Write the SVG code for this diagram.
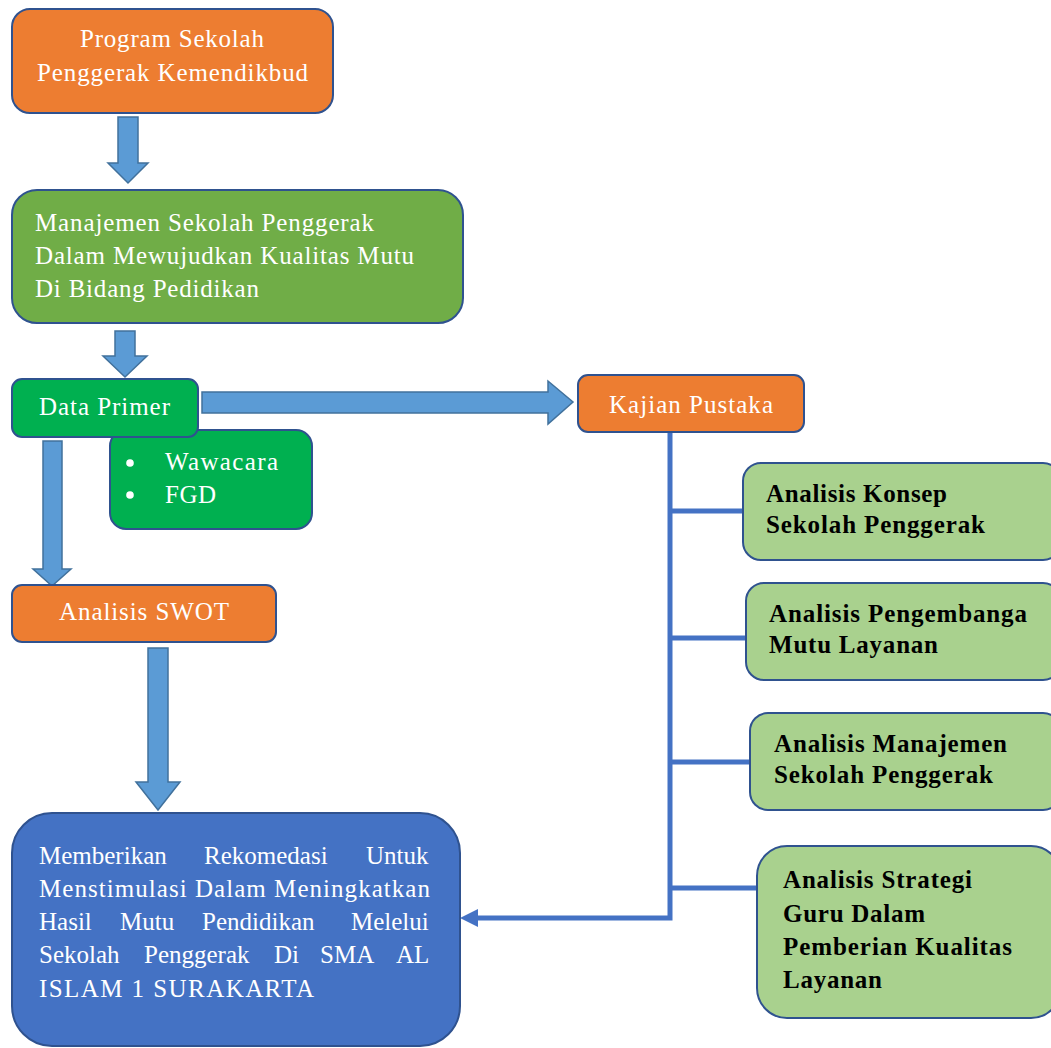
<svg xmlns="http://www.w3.org/2000/svg" width="1051" height="1048" viewBox="0 0 1051 1048">
  <style>
    .box { stroke: #2F528F; stroke-width: 2; }
    .orange { fill: #ED7D31; }
    .green { fill: #70AD47; }
    .bright { fill: #00B050; }
    .light { fill: #A9D18E; }
    .blue { fill: #4472C4; }
    .arrow { fill: #5B9BD5; stroke: #41719C; stroke-width: 1.5; }
    .wt { font-family: "Liberation Serif", "Times New Roman", serif; font-size: 25px; fill: #FFFFFF; }
    .bt { font-family: "Liberation Serif", "Times New Roman", serif; font-size: 25px; font-weight: bold; fill: #000000; }
    .link { fill: none; stroke: #4472C4; stroke-width: 5; }
  </style>

  <rect width="1051" height="1048" fill="#FFFFFF"/>

  <!-- block arrows and connectors -->
  <g id="connectors">
    <polygon class="arrow" points="118,117 138,117 138,163 148,163 128,183 108,163 118,163"/>
    <polygon class="arrow" points="115,331 135,331 135,356 147,356 125,377 103,356 115,356"/>
    <polygon class="arrow" points="202,392 548,392 548,381 573,402 548,424 548,413 202,413"/>
    <polygon class="arrow" points="43,441 62,441 62,569 71,569 52,586 33,569 43,569"/>
    <polygon class="arrow" points="148,648 168,648 168,782 180,782 158,810 136,782 148,782"/>
    <path class="link" d="M670 433 V918 H478"/>
    <polygon points="460,918 478,909 478,927" fill="#4472C4"/>
    <path class="link" d="M670 511 H744 M670 638 H747 M670 762 H751 M670 888 H757"/>
  </g>

  <g id="program">
    <rect class="box orange" x="12" y="9" width="321" height="104" rx="18"/>
    <text class="wt" x="80" y="47" textLength="184" lengthAdjust="spacing">Program Sekolah</text>
    <text class="wt" x="37" y="81" textLength="271" lengthAdjust="spacing">Penggerak Kemendikbud</text>
  </g>

  <g id="manajemen">
    <rect class="box green" x="12" y="190" width="451" height="133" rx="25"/>
    <text class="wt" x="35" y="231" textLength="339" lengthAdjust="spacing">Manajemen Sekolah Penggerak</text>
    <text class="wt" x="35" y="264" textLength="379" lengthAdjust="spacing">Dalam Mewujudkan Kualitas Mutu</text>
    <text class="wt" x="35" y="297" textLength="224" lengthAdjust="spacing">Di Bidang Pedidikan</text>
  </g>

  <g id="metode">
    <rect class="box bright" x="110" y="430" width="202" height="99" rx="16"/>
    <circle cx="130" cy="463" r="3.8" fill="#FFFFFF"/>
    <circle cx="130" cy="495" r="3.8" fill="#FFFFFF"/>
    <text class="wt" x="165" y="470" textLength="113" lengthAdjust="spacing">Wawacara</text>
    <text class="wt" x="165" y="503" textLength="51" lengthAdjust="spacing">FGD</text>
  </g>

  <g id="data-primer">
    <rect class="box bright" x="12" y="379" width="186" height="58" rx="10"/>
    <text class="wt" x="39" y="415" textLength="131" lengthAdjust="spacing">Data Primer</text>
  </g>

  <g id="kajian">
    <rect class="box orange" x="578" y="375" width="226" height="57" rx="10"/>
    <text class="wt" x="609" y="413" textLength="164" lengthAdjust="spacing">Kajian Pustaka</text>
  </g>

  <g id="swot">
    <rect class="box orange" x="12" y="585" width="264" height="57" rx="10"/>
    <text class="wt" x="59" y="620" textLength="170" lengthAdjust="spacing">Analisis SWOT</text>
  </g>

  <g id="rekomendasi">
    <rect class="box blue" x="12" y="813" width="448" height="233" rx="40"/>
    <text class="wt" y="864"><tspan x="39">Memberikan</tspan><tspan x="204">Rekomedasi</tspan><tspan x="366">Untuk</tspan></text>
    <text class="wt" x="39" y="897" textLength="391" lengthAdjust="spacing">Menstimulasi Dalam Meningkatkan</text>
    <text class="wt" y="930"><tspan x="39">Hasil</tspan><tspan x="120">Mutu</tspan><tspan x="202">Pendidikan</tspan><tspan x="351">Melelui</tspan></text>
    <text class="wt" y="963"><tspan x="39">Sekolah</tspan><tspan x="144">Penggerak</tspan><tspan x="274">Di</tspan><tspan x="320">SMA</tspan><tspan x="396">AL</tspan></text>
    <text class="wt" x="39" y="997" textLength="275" lengthAdjust="spacing">ISLAM 1 SURAKARTA</text>
  </g>

  <g id="konsep">
    <rect class="box light" x="743" y="463" width="318" height="97" rx="18"/>
    <text class="bt" x="766" y="502" textLength="181" lengthAdjust="spacing">Analisis Konsep</text>
    <text class="bt" x="766" y="533" textLength="219" lengthAdjust="spacing">Sekolah Penggerak</text>
  </g>

  <g id="pengembangan">
    <rect class="box light" x="746" y="583" width="315" height="97" rx="18"/>
    <text class="bt" x="769" y="622" textLength="258" lengthAdjust="spacing">Analisis Pengembanga</text>
    <text class="bt" x="769" y="653" textLength="169" lengthAdjust="spacing">Mutu Layanan</text>
  </g>

  <g id="manajemen-sekolah">
    <rect class="box light" x="750" y="713" width="311" height="97" rx="18"/>
    <text class="bt" x="774" y="752" textLength="233" lengthAdjust="spacing">Analisis Manajemen</text>
    <text class="bt" x="774" y="783" textLength="219" lengthAdjust="spacing">Sekolah Penggerak</text>
  </g>

  <g id="strategi">
    <rect class="box light" x="757" y="846" width="304" height="172" rx="30"/>
    <text class="bt" x="783" y="888" textLength="189" lengthAdjust="spacing">Analisis Strategi</text>
    <text class="bt" x="783" y="922" textLength="142" lengthAdjust="spacing">Guru Dalam</text>
    <text class="bt" x="783" y="955" textLength="229" lengthAdjust="spacing">Pemberian Kualitas</text>
    <text class="bt" x="783" y="988" textLength="99" lengthAdjust="spacing">Layanan</text>
  </g>
</svg>
